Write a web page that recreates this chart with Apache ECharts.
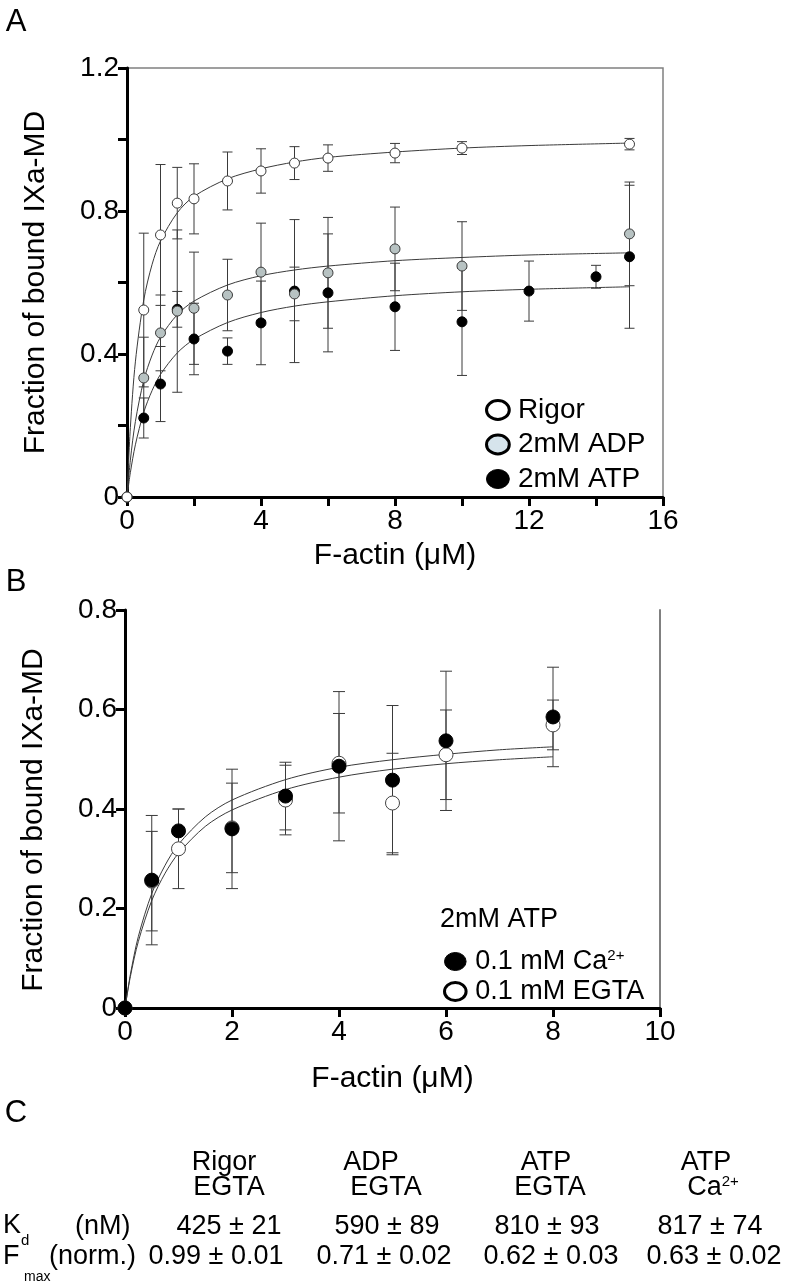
<!DOCTYPE html>
<html>
<head>
<meta charset="utf-8">
<script src="https://cdn.jsdelivr.net/npm/echarts@6/dist/echarts.min.js"></script>
<style>
html,body{margin:0;padding:0;background:#fff;}
#chart{width:796px;height:1286px;}
</style>
</head>
<body>
<div id="chart"></div>
<script>
// ---------- Panel A data (F-actin µM, fraction bound, error) ----------
const rigorX   = [0, 0.5, 1, 1.5, 2, 3, 4, 5, 6, 8, 10, 15];
const rigorY   = [0, 0.523, 0.733, 0.822, 0.834, 0.884, 0.912, 0.934, 0.948, 0.962, 0.976, 0.987];
const rigorErr = [0, 0.215, 0.197, 0.10, 0.098, 0.081, 0.062, 0.046, 0.037, 0.027, 0.018, 0.016];

const adpX   = [0, 0.5, 1, 1.5, 2, 3, 4, 5, 6, 8, 10, 15];
const adpY   = [0, 0.333, 0.459, 0.52, 0.528, 0.565, 0.629, 0.568, 0.627, 0.694, 0.646, 0.736];
const adpErr = [0, 0.114, 0.106, 0.227, 0.157, 0.10, 0.137, 0.075, 0.155, 0.117, 0.124, 0.145];

const atpX   = [0, 0.5, 1, 1.5, 2, 3, 4, 5, 6, 8, 10, 12, 14, 15];
const atpY   = [0, 0.221, 0.316, 0.525, 0.442, 0.408, 0.487, 0.576, 0.571, 0.532, 0.49, 0.576, 0.616, 0.672];
const atpErr = [0, 0.056, 0.105, 0.05, 0.10, 0.037, 0.117, 0.2, 0.165, 0.122, 0.15, 0.084, 0.032, 0.2];

// fitted curves
const fitAX      = [0, 0.1, 0.25, 0.5, 0.75, 1, 1.5, 2, 3, 4, 5, 6, 8, 10, 12, 15];
const fitRigorY  = [0, 0.194, 0.378, 0.551, 0.651, 0.716, 0.795, 0.841, 0.89, 0.918, 0.937, 0.95, 0.965, 0.976, 0.983, 0.99];
const fitAdpY    = [0, 0.103, 0.211, 0.326, 0.397, 0.447, 0.51, 0.548, 0.593, 0.619, 0.635, 0.646, 0.661, 0.67, 0.677, 0.683];
const fitAtpY    = [0, 0.068, 0.146, 0.237, 0.298, 0.343, 0.403, 0.441, 0.488, 0.516, 0.534, 0.546, 0.563, 0.574, 0.581, 0.588];

// ---------- Panel B data ----------
const caX   = [0, 0.5, 1, 2, 3, 4, 5, 6, 8];
const caY   = [0, 0.257, 0.356, 0.36, 0.426, 0.486, 0.458, 0.537, 0.585];
const caErr = [0, 0.13, 0.044, 0.12, 0.068, 0.15, 0.15, 0.14, 0.1];

const egX   = [0, 0.5, 1, 2, 3, 4, 5, 6, 8];
const egY   = [0, 0.255, 0.32, 0.362, 0.418, 0.492, 0.412, 0.509, 0.569];
const egErr = [0, 0.1, 0.08, 0.09, 0.07, 0.1, 0.1, 0.09, 0.05];

const fitBX   = [0, 0.1, 0.25, 0.5, 0.75, 1, 1.5, 2, 3, 4, 5, 6, 7, 8];
const fitCaY  = [0, 0.067, 0.144, 0.23, 0.287, 0.329, 0.384, 0.418, 0.459, 0.484, 0.499, 0.51, 0.519, 0.525];
const fitEgY  = [0, 0.063, 0.134, 0.216, 0.271, 0.311, 0.365, 0.398, 0.439, 0.464, 0.48, 0.491, 0.499, 0.505];

// ---------- Panel C table ----------
const tableHead1 = ['Rigor', 'ADP', 'ATP', 'ATP'];
const tableHead2 = ['EGTA', 'EGTA', 'EGTA', 'Ca{sup|2+}'];
const tableKd    = ['425 ± 21', '590 ± 89', '810 ± 93', '817 ± 74'];
const tableFmax  = ['0.99 ± 0.01', '0.71 ± 0.02', '0.62 ± 0.03', '0.63 ± 0.02'];

// ---------- helpers ----------
const FONT = "'Liberation Sans', Arial, sans-serif";
const zip2 = (xs, ys) => xs.map((x, i) => [x, ys[i]]);
const zip3 = (xs, ys, es) => xs.map((x, i) => [x, ys[i], es[i]]);

function errRender(cap) {
  return function (params, api) {
    const x = api.value(0), y = api.value(1), e = api.value(2);
    if (!e) return null;
    const t = api.coord([x, y + e]);
    const b = api.coord([x, y - e]);
    const st = { stroke: '#3a3a3a', lineWidth: 1 };
    return {
      type: 'group',
      children: [
        { type: 'line', shape: { x1: t[0], y1: t[1], x2: b[0], y2: b[1] }, style: st },
        { type: 'line', shape: { x1: t[0] - cap, y1: t[1], x2: t[0] + cap, y2: t[1] }, style: st },
        { type: 'line', shape: { x1: b[0] - cap, y1: b[1], x2: b[0] + cap, y2: b[1] }, style: st }
      ]
    };
  };
}

function errSeries(name, xs, ys, es, axisIdx, cap) {
  return {
    type: 'custom', name: name + ' err', xAxisIndex: axisIdx, yAxisIndex: axisIdx === 0 ? 0 : 1,
    data: zip3(xs, ys, es), renderItem: errRender(cap), encode: { x: 0, y: 1 }, z: 2, silent: true
  };
}
function fitSeries(xs, ys, axisIdx) {
  return {
    type: 'line', xAxisIndex: axisIdx, yAxisIndex: axisIdx === 0 ? 0 : 1, data: zip2(xs, ys),
    smooth: 0.3, showSymbol: false, symbol: 'none', z: 3, silent: true,
    lineStyle: { color: '#3a3a3a', width: 1 }
  };
}
function scatterSeries(name, xs, ys, axisIdx, size, fill, stroke, z) {
  return {
    type: 'scatter', name: name, xAxisIndex: axisIdx, yAxisIndex: axisIdx === 0 ? 0 : 1,
    data: zip2(xs, ys), symbol: 'circle', symbolSize: size, z: z,
    itemStyle: { color: fill, borderColor: stroke, borderWidth: 1, opacity: 1 }
  };
}

const ELLIPSE = 'path://M0,10a12,10 0 1,0 24,0a12,10 0 1,0 -24,0z';

const axisLineStyle = { color: '#000', width: 3 };
const tickStyle = { show: true, length: 9, lineStyle: { color: '#000', width: 3 } };
const labelBase = { color: '#000', fontSize: 28, fontFamily: FONT };
const nameStyle = { color: '#000', fontSize: 30, fontFamily: FONT };

function fmtEvery(step10) {
  return v => {
    const r = Math.round(v * 10);
    if (r % step10) return '';
    return r === 0 ? '0' : (r / 10).toFixed(1);
  };
}

// graphic texts
const graphics = [];
const txt = (x, y, text, size, align, extra) => graphics.push({
  type: 'text', x: x, y: y, silent: true,
  style: Object.assign({ text: text, fill: '#000', fontSize: size, fontFamily: FONT,
    align: align || 'center', verticalAlign: 'middle' }, extra || {})
});
txt(16, 22, 'A', 31);
txt(16, 582, 'B', 31);
txt(16, 1113, 'C', 31);
txt(440, 920, '2mM ATP', 27, 'left');

const headX1 = [224, 371, 546, 706];
const headX2 = [229, 386, 550, 713];
const kdX    = [229, 387, 547, 710];
const fmX    = [216, 384, 551, 714];
const supRich = { sup: { fontSize: 15, verticalAlign: 'top', lineHeight: 15, fontFamily: FONT, fill: '#000' } };
tableHead1.forEach((t, i) => txt(headX1[i], 1163, t, 27));
tableHead2.forEach((t, i) => txt(headX2[i], 1188, t, 27, 'center', { rich: supRich }));
tableKd.forEach((t, i) => txt(kdX[i], 1227, t, 27));
tableFmax.forEach((t, i) => txt(fmX[i], 1257, t, 27));
txt(3, 1226, 'K', 27, 'left');
txt(21, 1241, 'd', 15, 'left');
txt(75, 1227, '(nM)', 27, 'left');
txt(3, 1257, 'F', 27, 'left');
txt(24, 1277, 'max', 14, 'left');
txt(49, 1257, '(norm.)', 27, 'left');

const option = {
  animation: false,
  backgroundColor: '#fff',
  textStyle: { fontFamily: FONT },
  grid: [
    { left: 127, top: 68, width: 536, height: 429, show: true, borderColor: '#808080', borderWidth: 1.5, backgroundColor: 'transparent' },
    { left: 125, top: 610, width: 535, height: 398 }
  ],
  xAxis: [
    { gridIndex: 0, type: 'value', min: 0, max: 16, interval: 2,
      name: 'F-actin (μM)', nameLocation: 'middle', nameGap: 44, nameTextStyle: nameStyle,
      axisLine: { show: true, lineStyle: axisLineStyle }, axisTick: tickStyle,
      axisLabel: Object.assign({ margin: 10, formatter: v => (v % 4 === 0 ? String(v) : '') }, labelBase),
      splitLine: { show: false } },
    { gridIndex: 1, type: 'value', min: 0, max: 10, interval: 2,
      name: 'F-actin (μM)', nameLocation: 'middle', nameGap: 56, nameTextStyle: nameStyle,
      axisLine: { show: true, lineStyle: axisLineStyle }, axisTick: tickStyle,
      axisLabel: Object.assign({ margin: 10 }, labelBase),
      splitLine: { show: false } }
  ],
  yAxis: [
    { gridIndex: 0, type: 'value', min: 0, max: 1.2, interval: 0.2,
      name: 'Fraction of bound IXa-MD', nameLocation: 'middle', nameGap: 76, nameTextStyle: nameStyle,
      axisLine: { show: true, lineStyle: axisLineStyle }, axisTick: tickStyle,
      axisLabel: Object.assign({ margin: 8, formatter: fmtEvery(4) }, labelBase),
      splitLine: { show: false } },
    { gridIndex: 1, type: 'value', min: 0, max: 0.8, interval: 0.2,
      name: 'Fraction of bound IXa-MD', nameLocation: 'middle', nameGap: 76,
      nameTextStyle: Object.assign({ padding: [0, 22, 0, 0] }, nameStyle),
      axisLine: { show: true, lineStyle: axisLineStyle }, axisTick: tickStyle,
      axisLabel: Object.assign({ margin: 8, formatter: fmtEvery(2) }, labelBase),
      splitLine: { show: false } },
    { gridIndex: 1, type: 'value', min: 0, max: 0.8, position: 'right',
      axisLine: { show: true, lineStyle: { color: '#808080', width: 2 } },
      axisTick: { show: false }, axisLabel: { show: false }, splitLine: { show: false } }
  ],
  legend: [
    { orient: 'vertical', left: 480, top: 391, itemWidth: 24, itemHeight: 19, itemGap: 6.5,
      selectedMode: false,
      textStyle: { fontSize: 28, lineHeight: 28, color: '#000', fontFamily: FONT, padding: [0, 0, 0, 3] },
      data: [
        { name: 'Rigor', icon: ELLIPSE, itemStyle: { color: '#fff', borderColor: '#000', borderWidth: 3 } },
        { name: '2mM ADP', icon: ELLIPSE, itemStyle: { color: '#d6e4ec', borderColor: '#000', borderWidth: 3 } },
        { name: '2mM ATP', icon: ELLIPSE, itemStyle: { color: '#000', borderColor: '#000', borderWidth: 1 } }
      ] },
    { orient: 'vertical', left: 438, top: 943, itemWidth: 24, itemHeight: 18, itemGap: 3,
      selectedMode: false,
      textStyle: { fontSize: 27, lineHeight: 27, color: '#000', fontFamily: FONT, padding: [0, 0, 0, 3],
        rich: { sup: { fontSize: 15, lineHeight: 15, verticalAlign: 'top', color: '#000', fontFamily: FONT } } },
      formatter: n => n === '0.1 mM Ca2+' ? '0.1 mM Ca{sup|2+}' : n,
      data: [
        { name: '0.1 mM Ca2+', icon: ELLIPSE, itemStyle: { color: '#000', borderColor: '#000', borderWidth: 1 } },
        { name: '0.1 mM EGTA', icon: ELLIPSE, itemStyle: { color: '#fff', borderColor: '#000', borderWidth: 3 } }
      ] }
  ],
  graphic: graphics,
  series: [
    errSeries('Rigor', rigorX, rigorY, rigorErr, 0, 5),
    errSeries('2mM ADP', adpX, adpY, adpErr, 0, 5),
    errSeries('2mM ATP', atpX, atpY, atpErr, 0, 5),
    fitSeries(fitAX, fitRigorY, 0),
    fitSeries(fitAX, fitAdpY, 0),
    fitSeries(fitAX, fitAtpY, 0),
    scatterSeries('2mM ATP', atpX, atpY, 0, 10, '#000', '#000', 5),
    scatterSeries('2mM ADP', adpX, adpY, 0, 10, '#b7c2c2', '#3a3a3a', 6),
    scatterSeries('Rigor', rigorX, rigorY, 0, 10, '#fff', '#3a3a3a', 7),

    errSeries('0.1 mM EGTA', egX, egY, egErr, 1, 6),
    errSeries('0.1 mM Ca2+', caX, caY, caErr, 1, 6),
    fitSeries(fitBX, fitCaY, 1),
    fitSeries(fitBX, fitEgY, 1),
    scatterSeries('0.1 mM EGTA', egX, egY, 1, 14, '#fff', '#444', 5),
    scatterSeries('0.1 mM Ca2+', caX, caY, 1, 14, '#000', '#000', 6)
  ]
};

const chart = echarts.init(document.getElementById('chart'), null, { renderer: 'canvas' });
chart.setOption(option);
</script>
</body>
</html>
